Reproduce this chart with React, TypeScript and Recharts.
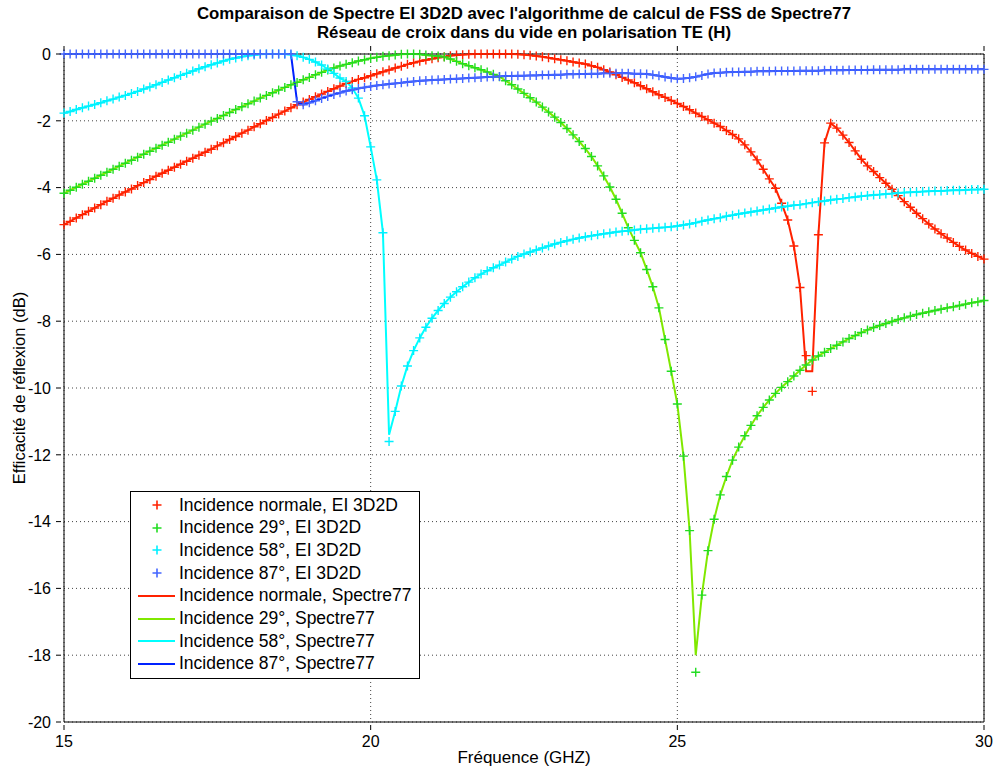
import React from 'react';
import { LineChart, Line, XAxis, YAxis, CartesianGrid } from 'recharts';

const FONT = '"Liberation Sans", Arial, Helvetica, sans-serif';

const freqTicks = [15, 20, 25, 30];
const dbTicks = [-20, -18, -16, -14, -12, -10, -8, -6, -4, -2, 0];

// sampling grid: 15 -> 30 GHz, step 0.1 GHz
const freqs = Array.from({ length: 151 }, (_, i) => (150 + i) / 10);

// EI 3D2D results (markers), one value per 0.1 GHz
const normaleEI = [
  -5.11, -5.01, -4.91, -4.81, -4.71, -4.61, -4.51, -4.41, -4.32, -4.22,
  -4.13, -4.04, -3.94, -3.85, -3.76, -3.66, -3.57, -3.48, -3.39, -3.3,
  -3.21, -3.12, -3.03, -2.94, -2.85, -2.75, -2.66, -2.56, -2.47, -2.37,
  -2.28, -2.18, -2.09, -1.99, -1.9, -1.8, -1.71, -1.61, -1.52, -1.44,
  -1.36, -1.28, -1.2, -1.12, -1.04, -0.96, -0.88, -0.82, -0.76, -0.71,
  -0.65, -0.59, -0.53, -0.48, -0.42, -0.37, -0.31, -0.26, -0.22, -0.18,
  -0.14, -0.11, -0.08, -0.05, -0.03, -0.02, -0.01, 0, 0, 0,
  0, 0, 0, 0, -0.01, -0.02, -0.04, -0.06, -0.08, -0.11,
  -0.14, -0.17, -0.2, -0.24, -0.27, -0.3, -0.35, -0.4, -0.47, -0.54,
  -0.62, -0.7, -0.78, -0.86, -0.95, -1.04, -1.13, -1.22, -1.3, -1.39,
  -1.48, -1.57, -1.67, -1.77, -1.87, -1.97, -2.07, -2.17, -2.29, -2.41,
  -2.54, -2.72, -2.93, -3.17, -3.45, -3.74, -4.02, -4.47, -4.97, -5.75,
  -6.99, -9.03, -10.1, -5.41, -2.66, -2.07, -2.22, -2.43, -2.65, -2.9,
  -3.15, -3.35, -3.52, -3.7, -3.87, -4.05, -4.24, -4.42, -4.59, -4.77,
  -4.93, -5.09, -5.24, -5.38, -5.51, -5.64, -5.76, -5.87, -5.97, -6.06,
  -6.14,
];

const inc29EI = [
  -4.17, -4.08, -3.99, -3.9, -3.81, -3.72, -3.63, -3.54, -3.45, -3.36,
  -3.27, -3.18, -3.09, -3.0, -2.91, -2.82, -2.73, -2.64, -2.55, -2.46,
  -2.37, -2.28, -2.19, -2.1, -2.01, -1.93, -1.84, -1.75, -1.66, -1.58,
  -1.49, -1.41, -1.32, -1.24, -1.16, -1.08, -1.0, -0.92, -0.85, -0.77,
  -0.7, -0.62, -0.55, -0.48, -0.42, -0.36, -0.31, -0.26, -0.21, -0.17,
  -0.13, -0.1, -0.07, -0.05, -0.03, -0.01, 0, 0, -0.01, -0.03,
  -0.05, -0.06, -0.09, -0.15, -0.22, -0.29, -0.35, -0.41, -0.47, -0.54,
  -0.61, -0.68, -0.8, -0.92, -1.05, -1.18, -1.31, -1.44, -1.59, -1.74,
  -1.89, -2.05, -2.23, -2.42, -2.62, -2.83, -3.07, -3.35, -3.65, -3.98,
  -4.35, -4.77, -5.2, -5.58, -5.95, -6.45, -6.97, -7.6, -8.55, -9.5,
  -10.48, -12.04, -14.27, -18.51, -16.2, -14.87, -13.93, -13.2, -12.65, -12.16,
  -11.77, -11.43, -11.12, -10.83, -10.58, -10.36, -10.16, -9.98, -9.81, -9.64,
  -9.47, -9.31, -9.16, -9.04, -8.93, -8.82, -8.72, -8.62, -8.52, -8.43,
  -8.34, -8.26, -8.19, -8.13, -8.07, -8.01, -7.95, -7.9, -7.85, -7.8,
  -7.76, -7.72, -7.68, -7.64, -7.6, -7.57, -7.53, -7.49, -7.45, -7.42,
  -7.38,
];

const inc58EI = [
  -1.77, -1.72, -1.66, -1.61, -1.56, -1.51, -1.46, -1.4, -1.35, -1.29,
  -1.24, -1.18, -1.12, -1.05, -0.99, -0.92, -0.85, -0.78, -0.71, -0.64,
  -0.58, -0.51, -0.44, -0.38, -0.32, -0.27, -0.21, -0.16, -0.12, -0.08,
  -0.05, -0.03, -0.01, 0, 0, 0, 0, -0.02, -0.05, -0.1,
  -0.16, -0.24, -0.33, -0.45, -0.58, -0.72, -0.82, -1.02, -1.32, -1.85,
  -2.78, -3.77, -5.35, -11.6, -10.7, -9.94, -9.34, -8.88, -8.5, -8.18,
  -7.91, -7.68, -7.47, -7.28, -7.12, -6.97, -6.83, -6.7, -6.59, -6.49,
  -6.4, -6.32, -6.23, -6.14, -6.06, -5.99, -5.93, -5.87, -5.81, -5.75,
  -5.69, -5.64, -5.59, -5.55, -5.51, -5.47, -5.44, -5.41, -5.38, -5.36,
  -5.33, -5.31, -5.29, -5.27, -5.25, -5.23, -5.22, -5.2, -5.19, -5.17,
  -5.15, -5.12, -5.09, -5.05, -5.01, -4.97, -4.93, -4.9, -4.86, -4.83,
  -4.79, -4.76, -4.73, -4.7, -4.67, -4.64, -4.61, -4.58, -4.56, -4.53,
  -4.51, -4.48, -4.45, -4.42, -4.4, -4.37, -4.35, -4.33, -4.3, -4.28,
  -4.26, -4.24, -4.22, -4.21, -4.19, -4.18, -4.16, -4.15, -4.14, -4.13,
  -4.12, -4.11, -4.1, -4.1, -4.09, -4.08, -4.08, -4.07, -4.06, -4.06,
  -4.05,
];

const inc87EI = [
  0, 0, 0, 0, 0, 0, 0, 0, 0, 0,
  0, 0, 0, 0, 0, 0, 0, 0, 0, 0,
  0, 0, 0, 0, 0, 0, 0, 0, 0, 0,
  0, 0, 0, 0, 0, 0, 0, 0, -1.43, -1.52,
  -1.46, -1.4, -1.33, -1.27, -1.21, -1.16, -1.11, -1.07, -1.03, -1.0,
  -0.97, -0.94, -0.92, -0.9, -0.88, -0.86, -0.84, -0.82, -0.8, -0.79,
  -0.78, -0.77, -0.76, -0.75, -0.74, -0.73, -0.72, -0.71, -0.7, -0.69,
  -0.68, -0.67, -0.66, -0.66, -0.65, -0.65, -0.64, -0.64, -0.63, -0.63,
  -0.62, -0.62, -0.61, -0.61, -0.6, -0.6, -0.59, -0.59, -0.58, -0.58,
  -0.58, -0.58, -0.58, -0.59, -0.59, -0.6, -0.62, -0.65, -0.69, -0.72,
  -0.74, -0.73, -0.71, -0.68, -0.64, -0.6, -0.57, -0.56, -0.55, -0.54,
  -0.54, -0.53, -0.53, -0.52, -0.52, -0.52, -0.51, -0.51, -0.51, -0.51,
  -0.5, -0.5, -0.5, -0.5, -0.49, -0.49, -0.49, -0.49, -0.48, -0.48,
  -0.48, -0.48, -0.47, -0.47, -0.47, -0.47, -0.47, -0.46, -0.46, -0.46,
  -0.46, -0.46, -0.46, -0.46, -0.46, -0.46, -0.46, -0.46, -0.46, -0.46,
  -0.46,
];

// Spectre77 curves follow the same samples, except at the resonance dips
const normaleSpectreDip: [number, number][] = [[27.1, -9.5], [27.2, -9.5]];
const inc29SpectreDip: [number, number][] = [[25.3, -18.0]];
const inc58SpectreDip: [number, number][] = [[20.3, -11.4]];
const inc87SpectreDip: [number, number][] = [];

const withDip = (f: number, v: number, dip: [number, number][]) => {
  const hit = dip.find(([x]) => Math.abs(x - f) < 1e-6);
  return hit ? hit[1] : v;
};

const data = freqs.map((f, i) => ({
  f,
  normEI: normaleEI[i],
  i29EI: inc29EI[i],
  i58EI: inc58EI[i],
  i87EI: inc87EI[i],
  normSp: withDip(f, normaleEI[i], normaleSpectreDip),
  i29Sp: withDip(f, inc29EI[i], inc29SpectreDip),
  i58Sp: withDip(f, inc58EI[i], inc58SpectreDip),
  i87Sp: withDip(f, inc87EI[i], inc87SpectreDip),
}));

const markerSeries = [
  { key: 'normEI', color: '#ff2200', name: 'Incidence normale, EI 3D2D' },
  { key: 'i29EI', color: '#22dd22', name: 'Incidence 29°, EI 3D2D' },
  { key: 'i58EI', color: '#00f0ff', name: 'Incidence 58°, EI 3D2D' },
  { key: 'i87EI', color: '#4466ff', name: 'Incidence 87°, EI 3D2D' },
];

const lineSeries = [
  { key: 'normSp', color: '#ff2200', name: 'Incidence normale, Spectre77' },
  { key: 'i29Sp', color: '#80e800', name: 'Incidence 29°, Spectre77' },
  { key: 'i58Sp', color: '#00ffff', name: 'Incidence 58°, Spectre77' },
  { key: 'i87Sp', color: '#0022ff', name: 'Incidence 87°, Spectre77' },
];

const plusDot = (color: string) => (props: any) => {
  const { cx, cy, index } = props;
  if (cx == null || cy == null) return <g key={`e-${index}`} />;
  return (
    <path
      key={`p-${index}`}
      d={`M${cx - 4.5},${cy}H${cx + 4.5}M${cx},${cy - 4.5}V${cy + 4.5}`}
      stroke={color}
      strokeWidth={1.4}
      fill="none"
    />
  );
};

const W = 997;
const H = 769;

// MATLAB-like ticks: marks point inward, labels outside
const LeftTick = (props: any) => {
  const { x, y, payload } = props;
  return (
    <g>
      <line x1={x} y1={y} x2={x + 5} y2={y} stroke="#000" />
      <text x={x - 5} y={y} dy="0.36em" textAnchor="end" fontSize={16} fontFamily={FONT} fill="#000">
        {payload.value}
      </text>
    </g>
  );
};

const RightTick = (props: any) => {
  const { x, y } = props;
  return <line x1={x} y1={y} x2={x - 5} y2={y} stroke="#000" />;
};

const BottomTick = (props: any) => {
  const { x, y, payload } = props;
  return (
    <g>
      <line x1={x} y1={y} x2={x} y2={y - 5} stroke="#000" />
      <text x={x} y={y + 4} dy="0.8em" textAnchor="middle" fontSize={16} fontFamily={FONT} fill="#000">
        {payload.value}
      </text>
    </g>
  );
};

const TopTick = (props: any) => {
  const { x, y } = props;
  return <line x1={x} y1={y} x2={x} y2={y + 5} stroke="#000" />;
};

const LegendBox = () => (
  <div
    style={{
      position: 'absolute',
      left: 130,
      top: 491,
      width: 288,
      height: 186,
      border: '1px solid #000',
      background: '#fff',
      fontFamily: FONT,
      fontSize: 17.5,
      color: '#000',
    }}
  >
    {[...markerSeries.map((s) => ({ ...s, marker: true })), ...lineSeries.map((s) => ({ ...s, marker: false }))].map(
      (s, i) => (
        <div
          key={s.key}
          style={{ position: 'absolute', left: 0, top: 2 + i * 22.7, height: 22, width: '100%', display: 'flex', alignItems: 'center' }}
        >
          <svg width={48} height={22} style={{ flex: 'none' }}>
            {s.marker ? (
              <path d="M21.5,11H30.5M26,6.5V15.5" stroke={s.color} strokeWidth={1.6} fill="none" />
            ) : (
              <line x1={7} y1={11} x2={44} y2={11} stroke={s.color} strokeWidth={2} />
            )}
          </svg>
          <span style={{ whiteSpace: 'nowrap' }}>{s.name}</span>
        </div>
      )
    )}
  </div>
);

export default function App() {
  return (
    <div style={{ position: 'absolute', left: 0, top: 0, width: W, height: H, background: '#fff' }}>
      <div
        style={{
          position: 'absolute',
          left: 64,
          top: 4,
          width: 920,
          textAlign: 'center',
          fontFamily: FONT,
          fontWeight: 'bold',
          fontSize: 16.8,
          lineHeight: '19px',
          color: '#000',
        }}
      >
        <div>Comparaison de Spectre El 3D2D avec l'algorithme de calcul de FSS de Spectre77</div>
        <div>Réseau de croix dans du vide en polarisation TE (H)</div>
      </div>

      <LineChart width={W} height={H} data={data} margin={{ top: 44, right: 3, bottom: 17, left: 24 }}>
        <CartesianGrid stroke="#444" strokeDasharray="1 3" horizontalValues={dbTicks} verticalValues={freqTicks} />
        <XAxis
          dataKey="f"
          type="number"
          domain={[15, 30]}
          ticks={freqTicks}
          height={30}
          tickLine={false}
          stroke="#000"
          tick={<BottomTick />}
          interval={0}
        />
        <XAxis
          xAxisId="top"
          orientation="top"
          dataKey="f"
          type="number"
          domain={[15, 30]}
          ticks={freqTicks}
          height={10}
          tickLine={false}
          tick={<TopTick />}
          stroke="#000"
          interval={0}
        />
        <YAxis
          type="number"
          domain={[-20, 0]}
          ticks={dbTicks}
          width={40}
          tickLine={false}
          stroke="#000"
          tick={<LeftTick />}
          interval={0}
        />
        <YAxis
          yAxisId="right"
          orientation="right"
          type="number"
          domain={[-20, 0]}
          ticks={dbTicks}
          width={10}
          tickLine={false}
          tick={<RightTick />}
          stroke="#000"
          interval={0}
        />
        {markerSeries.map((s) => (
          <Line
            key={s.key}
            dataKey={s.key}
            stroke="none"
            dot={plusDot(s.color)}
            activeDot={false}
            isAnimationActive={false}
          />
        ))}
        {lineSeries.map((s) => (
          <Line
            key={s.key}
            dataKey={s.key}
            type="linear"
            stroke={s.color}
            strokeWidth={2}
            dot={false}
            activeDot={false}
            isAnimationActive={false}
          />
        ))}
      </LineChart>

      <div
        style={{
          position: 'absolute',
          left: 64,
          top: 748,
          width: 920,
          textAlign: 'center',
          fontFamily: FONT,
          fontSize: 17,
          color: '#000',
        }}
      >
        Fréquence (GHZ)
      </div>
      <div
        style={{
          position: 'absolute',
          left: 19 - 150,
          top: 388 - 10,
          width: 300,
          height: 20,
          lineHeight: '20px',
          textAlign: 'center',
          transform: 'rotate(-90deg)',
          fontFamily: FONT,
          fontSize: 16.5,
          color: '#000',
        }}
      >
        Efficacité de réflexion (dB)
      </div>

      <LegendBox />
    </div>
  );
}
